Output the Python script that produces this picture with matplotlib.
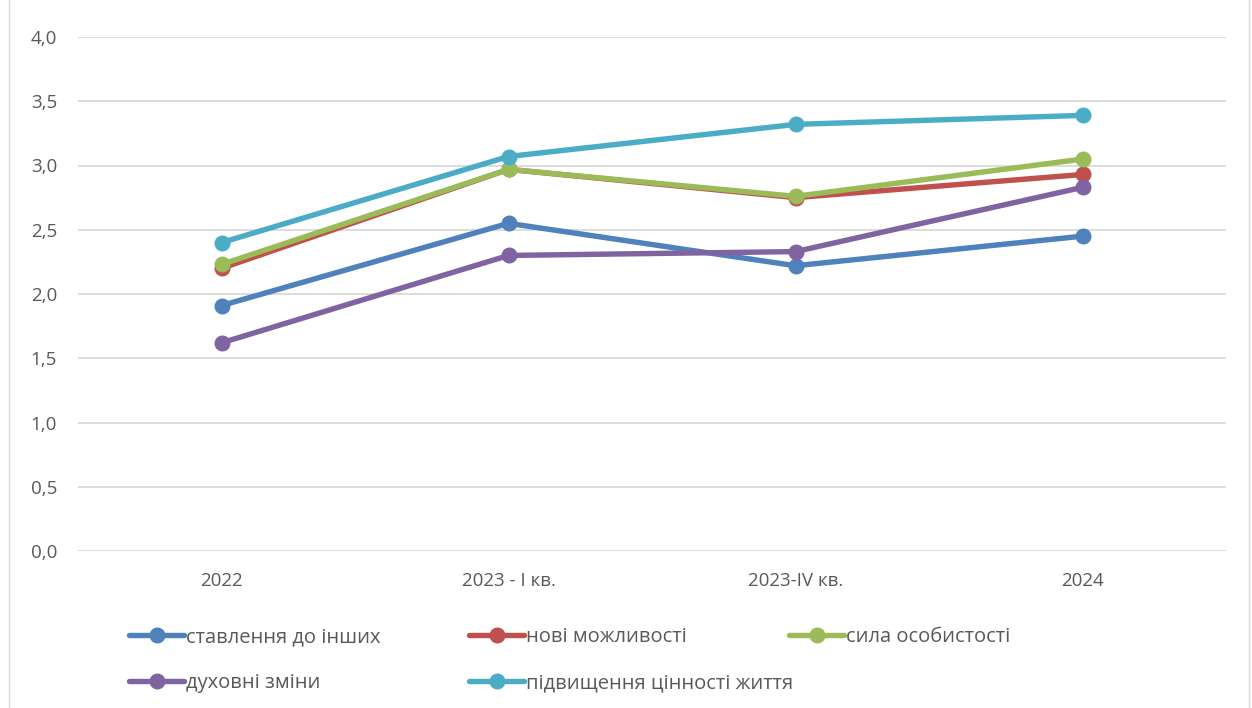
import matplotlib
matplotlib.use('Agg')

import matplotlib.pyplot as plt
from matplotlib.patches import Rectangle

# data
categories = ['2022', '2023 - I кв.', '2023-IV кв.', '2024']
attitude_others = [1.91, 2.55, 2.22, 2.45]
new_opportunities = [2.20, 2.97, 2.75, 2.93]
personal_strength = [2.23, 2.97, 2.76, 3.05]
spiritual_change = [1.62, 2.30, 2.33, 2.83]
life_value = [2.40, 3.07, 3.32, 3.39]

series = [
    ('ставлення до інших', attitude_others, '#4f81bd'),
    ('нові можливості', new_opportunities, '#c0504d'),
    ('сила особистості', personal_strength, '#9bbb59'),
    ('духовні зміни', spiritual_change, '#8064a2'),
    ('підвищення цінності життя', life_value, '#4bacc6'),
]

plt.rcParams['font.family'] = ['Open Sans', 'DejaVu Sans']
text_color = '#595959'

fig = plt.figure(figsize=(12.52, 7.08), dpi=100)
ax = fig.add_axes([78 / 1252, 1 - 551 / 708, 1148 / 1252, 514 / 708])

xs = list(range(len(categories)))
handles = {}
for name, vals, color in series:
    line, = ax.plot(xs, vals, '-o', color=color, lw=3.9, markersize=10.5,
                    label=name, solid_capstyle='round', zorder=3)
    handles[name] = line

ax.set_xlim(-0.5, 3.5)
ax.set_ylim(0, 4.0)
ax.set_yticks([i * 0.5 for i in range(9)])
ax.set_yticklabels([('%.1f' % (i * 0.5)).replace('.', ',') for i in range(9)])
ax.set_xticks(xs)
ax.set_xticklabels(categories)
ax.tick_params(length=0, labelsize=13.5, labelcolor=text_color)
ax.tick_params(axis='x', pad=15)
ax.tick_params(axis='y', pad=15)
ax.grid(axis='y', color='#d9d9d9', lw=1.3)
ax.set_axisbelow(True)
for s in ax.spines.values():
    s.set_visible(False)

# legend columns placed like the Excel layout
columns = [
    (['ставлення до інших', 'духовні зміни'], 129),
    (['нові можливості', 'підвищення цінності життя'], 469),
    (['сила особистості'], 789),
]
for names, xpix in columns:
    fig.legend([handles[n] for n in names], names,
               loc='upper left', bbox_to_anchor=(xpix / 1252, 1 - 627 / 708),
               frameon=False, fontsize=14.5, labelcolor=text_color,
               handlelength=2.75, handletextpad=0.1, labelspacing=1.3,
               borderaxespad=0, borderpad=0)

fig.patches.append(Rectangle((9 / 1252, -0.01), 1240 / 1252, 1.02,
                             transform=fig.transFigure, fill=False,
                             edgecolor='#d9d9d9', lw=1))

fig.savefig('out.png', dpi=100)
